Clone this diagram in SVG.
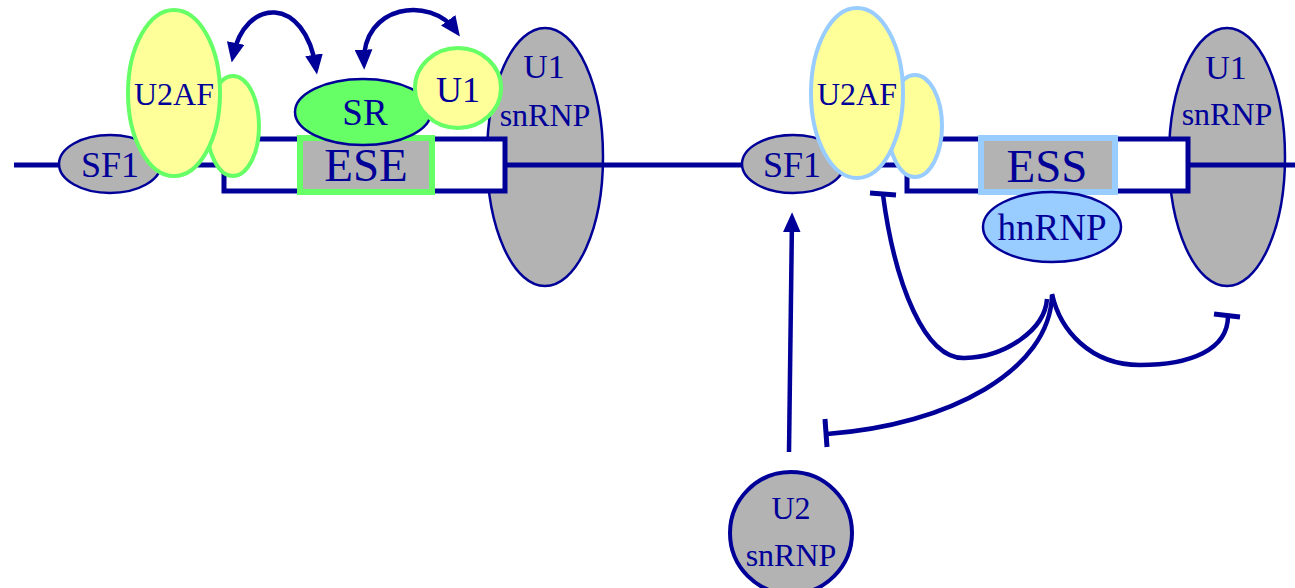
<svg xmlns="http://www.w3.org/2000/svg" width="1295" height="588" viewBox="0 0 1295 588">
<style>
text{font-family:"Liberation Serif","Times New Roman",serif;fill:#000099;text-anchor:middle}
.gray{fill:#b3b3b3;stroke:#000099;stroke-width:2.5}
.yg{fill:#ffff99;stroke:#66ff66;stroke-width:4}
.yb{fill:#ffff99;stroke:#99ccff;stroke-width:4}
.strand{fill:none;stroke:#000099;stroke-width:5}
.box{fill:#ffffff;stroke:#000099;stroke-width:5}
.conn{fill:none;stroke:#000099;stroke-width:4.5}
.bar{fill:none;stroke:#000099;stroke-width:5}
</style>
<defs>
<marker id="ah" markerUnits="userSpaceOnUse" markerWidth="20" markerHeight="18" viewBox="0 0 18 16" refX="12" refY="8" orient="auto-start-reverse">
<path d="M0,0 L18,8 L0,16 z" fill="#000099"/>
</marker>
</defs>

<g id="u1snrnp-left"><ellipse class="gray" cx="545" cy="157" rx="58" ry="129"/><text x="544" y="78" font-size="34">U1</text><text x="545" y="126" font-size="32">snRNP</text></g>
<g id="u1snrnp-right"><ellipse class="gray" cx="1227" cy="157" rx="58" ry="129"/><text x="1226" y="79" font-size="34">U1</text><text x="1227" y="125" font-size="32">snRNP</text></g>

<g id="strand">
<path class="strand" d="M14 165 H224 M505 165 H907 M1188 165 H1295"/>
</g>
<g id="exon-left"><rect class="box" x="224" y="139" width="281" height="52"/></g>
<g id="exon-right"><rect class="box" x="907" y="139" width="281" height="52"/></g>

<g id="ese"><rect x="300" y="138" width="132" height="54" fill="#b3b3b3" stroke="#66ff66" stroke-width="6"/><text x="366" y="181" font-size="47">ESE</text></g>
<g id="ess"><rect x="981" y="138" width="134" height="54" fill="#b3b3b3" stroke="#99ccff" stroke-width="6"/><text x="1047" y="182" font-size="47">ESS</text></g>

<g id="sf1-left"><ellipse class="gray" cx="110" cy="164" rx="51" ry="29"/><text x="110" y="177" font-size="36">SF1</text></g>
<g id="sf1-right"><ellipse class="gray" cx="793" cy="164" rx="51" ry="29"/><text x="792" y="177" font-size="36">SF1</text></g>

<g id="u2af-left"><ellipse class="yg" cx="233" cy="126" rx="26" ry="50"/><ellipse class="yg" cx="174" cy="93" rx="46" ry="83"/><text x="174" y="105" font-size="32">U2AF</text></g>
<g id="u2af-right"><ellipse class="yb" cx="915" cy="126" rx="27" ry="51"/><ellipse class="yb" cx="857" cy="93" rx="46" ry="85"/><text x="857" y="105" font-size="32">U2AF</text></g>

<g id="sr"><ellipse cx="363" cy="112" rx="68" ry="33" fill="#66ff66" stroke="#000099" stroke-width="2.5"/><text x="365" y="125" font-size="37">SR</text></g>
<g id="u1"><ellipse class="yg" cx="458" cy="88" rx="43" ry="40"/><text x="458" y="102" font-size="36">U1</text></g>

<g id="hnrnp"><ellipse cx="1052" cy="227" rx="69" ry="35" fill="#99ccff" stroke="#000099" stroke-width="2.5"/><text x="1052" y="240" font-size="37">hnRNP</text></g>
<g id="u2snrnp"><circle cx="791" cy="533" r="61" fill="#b3b3b3" stroke="#000099" stroke-width="4"/><text x="791" y="519" font-size="32">U2</text><text x="791" y="566" font-size="32">snRNP</text></g>

<g id="connectors">
<path class="conn" d="M233 56 C245 -3 305 -5 316 68" marker-start="url(#ah)" marker-end="url(#ah)"/>
<path class="conn" d="M364 63 C362 5 430 -5 456 31" marker-start="url(#ah)" marker-end="url(#ah)"/>
<path class="conn" d="M789 452 L792 219" marker-end="url(#ah)"/>
<path class="conn" d="M883 195 C895 285 925 360 965 358 C1005 357 1045 330 1047 299"/>
<path class="bar" d="M870 193 L896 195"/>
<path class="conn" d="M1052 294 C1060 330 1090 365 1140 365 C1190 365 1228 350 1228 316"/>
<path class="bar" d="M1214 314 L1240 317"/>
<path class="conn" d="M1052 295 C1050 370 950 425 827 434"/>
<path class="bar" d="M825 419 L827 447"/>
</g>
</svg>
